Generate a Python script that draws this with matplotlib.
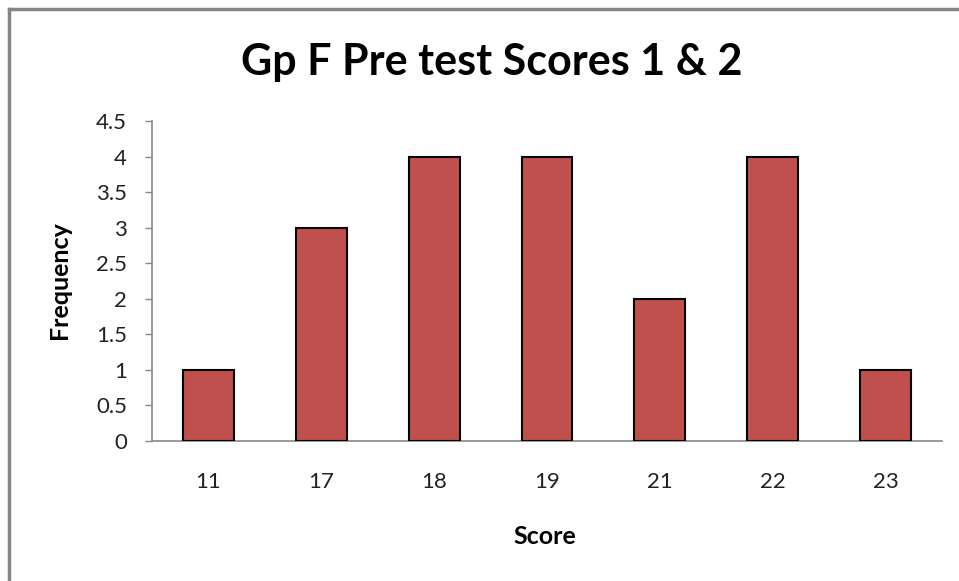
import matplotlib.pyplot as plt
from matplotlib.lines import Line2D

# histogram of scores
scores = ["11", "17", "18", "19", "21", "22", "23"]
frequency = [1, 3, 4, 4, 2, 4, 1]
y_ticks = [0, 0.5, 1, 1.5, 2, 2.5, 3, 3.5, 4, 4.5]
y_tick_labels = ["0", "0.5", "1", "1.5", "2", "2.5", "3", "3.5", "4", "4.5"]

plt.rcParams["font.family"] = ["Lato", "DejaVu Sans"]

fig = plt.figure(figsize=(9.59, 5.81), dpi=100)
ax = fig.add_axes([0.1585, 0.241, 0.8238, 0.5507])

x = range(len(scores))
ax.bar(x, frequency, width=0.45, color="#C0504D", edgecolor="black", linewidth=1.5, zorder=3)

ax.set_xlim(-0.5, len(scores) - 0.5)
ax.set_ylim(0, 4.5)
ax.set_xticks(list(x))
ax.set_xticklabels(scores, fontsize=16)
ax.set_yticks(y_ticks)
ax.set_yticklabels(y_tick_labels, fontsize=16)
ax.tick_params(axis="x", length=0, pad=22, colors="#222222")
ax.tick_params(axis="y", length=5, width=1, color="#888888", pad=13, labelcolor="#222222")

for side in ["top", "right"]:
    ax.spines[side].set_visible(False)
for side in ["left", "bottom"]:
    ax.spines[side].set_color("#888888")
    ax.spines[side].set_linewidth(1.2)

fig.text(0.513, 0.893, "Gp F Pre test Scores 1 & 2", fontsize=31, fontweight="bold",
         ha="center", va="center", color="black")
fig.text(0.568, 0.076, "Score", fontsize=18, fontweight="bold", ha="center", va="center")
fig.text(0.0625, 0.518, "Frequency", fontsize=18, fontweight="bold", ha="center",
         va="center", rotation=90)

# outer chart border (top and left visible)
fig.add_artist(Line2D([0.0089, 1.0], [0.9845, 0.9845], transform=fig.transFigure,
                      color="#858585", linewidth=2.5))
fig.add_artist(Line2D([0.0089, 0.0089], [0.0, 0.9845], transform=fig.transFigure,
                      color="#858585", linewidth=2.5))

fig.savefig("out.png", dpi=100)
